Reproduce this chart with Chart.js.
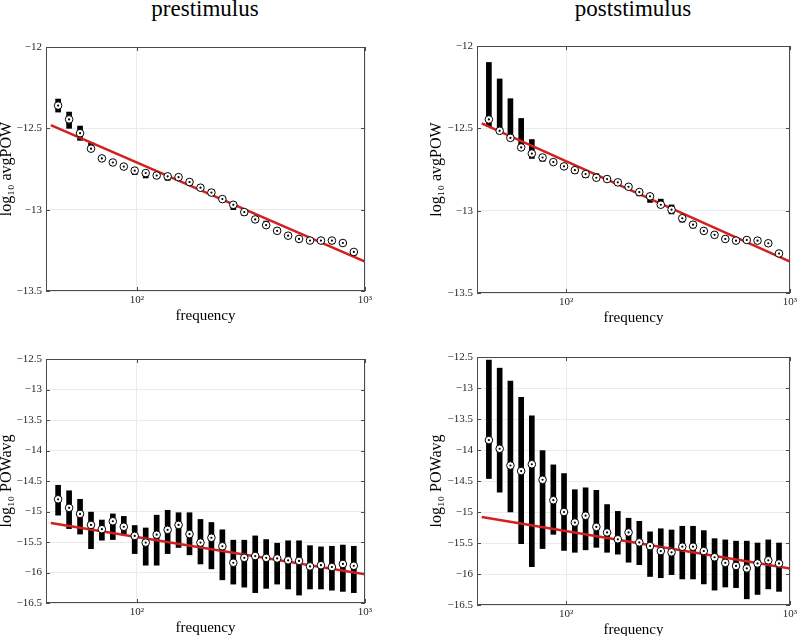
<!DOCTYPE html>
<html>
<head>
<meta charset="utf-8">
<script src="https://cdn.jsdelivr.net/npm/chart.js@4.4.0/dist/chart.umd.min.js"></script>
<style>
  body { margin: 0; background: #fff; }
  #page { position: relative; width: 797px; height: 636px; overflow: hidden; }
  canvas { position: absolute; }
  .title {
    position: absolute; top: -3px; width: 300px; text-align: center;
    font-family: 'Liberation Serif', serif; font-size: 23px; line-height: 23px; color: #000;
  }
</style>
</head>
<body>
<div id="page">
  <div class="title" style="left:55px">prestimulus</div>
  <div class="title" style="left:483px">poststimulus</div>
  <canvas id="preAvg"></canvas>
  <canvas id="postAvg"></canvas>
  <canvas id="prePow"></canvas>
  <canvas id="postPow"></canvas>
</div>
<script>
// frequency bins (Hz), log spaced
const freqs = [45.2, 50.5, 56.4, 63.0, 70.3, 78.5, 87.7, 97.9, 109.4, 122.2,
  136.5, 152.4, 170.2, 190.1, 212.3, 237.1, 264.8, 295.8, 330.3, 368.9,
  412.1, 460.3, 514.0, 574.1, 641.2, 716.1, 799.8, 893.3];

// log10 avgPOW, prestimulus
const preAvgMean = [-12.36, -12.445, -12.53, -12.625, -12.685, -12.71, -12.735, -12.76, -12.775, -12.79,
  -12.795, -12.80, -12.83, -12.865, -12.895, -12.935, -12.97, -13.015, -13.06, -13.095,
  -13.13, -13.16, -13.18, -13.19, -13.19, -13.19, -13.205, -13.26];
const preAvgLo = [-12.40, -12.50, -12.574, -12.635, -12.70, -12.72, -12.745, -12.785, -12.805, -12.80,
  -12.82, -12.81, -12.84, -12.875, -12.91, -12.945, -13.0, -13.035, -13.07, -13.11,
  -13.14, -13.17, -13.19, -13.20, -13.20, -13.21, -13.215, -13.28];
const preAvgHi = [-12.32, -12.40, -12.486, -12.59, -12.675, -12.70, -12.725, -12.75, -12.765, -12.78,
  -12.785, -12.79, -12.82, -12.855, -12.877, -12.925, -12.96, -13.005, -13.05, -13.07,
  -13.12, -13.15, -13.17, -13.18, -13.18, -13.18, -13.195, -13.25];

// log10 avgPOW, poststimulus
const postAvgMean = [-12.446, -12.515, -12.558, -12.616, -12.653, -12.677, -12.705, -12.731, -12.754, -12.778,
  -12.80, -12.808, -12.828, -12.855, -12.887, -12.913, -12.964, -12.994, -13.046, -13.085,
  -13.123, -13.147, -13.172, -13.182, -13.178, -13.182, -13.198, -13.26];
const postAvgLo = [-12.49, -12.53, -12.575, -12.63, -12.683, -12.70, -12.715, -12.74, -12.775, -12.80,
  -12.81, -12.82, -12.845, -12.865, -12.91, -12.95, -12.975, -13.02, -13.07, -13.105,
  -13.14, -13.16, -13.18, -13.19, -13.19, -13.19, -13.21, -13.27];
const postAvgHi = [-12.10, -12.20, -12.32, -12.44, -12.568, -12.665, -12.695, -12.72, -12.745, -12.77,
  -12.775, -12.80, -12.81, -12.845, -12.875, -12.895, -12.93, -12.965, -13.035, -13.075,
  -13.11, -13.14, -13.16, -13.17, -13.17, -13.17, -13.19, -13.25];

// log10 POWavg, prestimulus
const prePowMean = [-14.80, -14.94, -15.04, -15.22, -15.29, -15.16, -15.25, -15.40, -15.51, -15.38,
  -15.30, -15.22, -15.37, -15.51, -15.43, -15.57, -15.84, -15.76, -15.73, -15.76,
  -15.77, -15.80, -15.81, -15.90, -15.88, -15.91, -15.86, -15.89];
const prePowLo = [-15.06, -15.28, -15.37, -15.61, -15.47, -15.46, -15.37, -15.69, -15.88, -15.88,
  -15.69, -15.59, -15.71, -15.86, -15.94, -16.12, -16.19, -16.24, -16.33, -16.26,
  -16.19, -16.27, -16.37, -16.27, -16.27, -16.29, -16.31, -16.33];
const prePowHi = [-14.57, -14.66, -14.80, -15.01, -15.14, -15.04, -15.08, -15.23, -15.27, -15.06,
  -14.98, -15.02, -15.02, -15.13, -15.18, -15.30, -15.47, -15.47, -15.40, -15.46,
  -15.52, -15.48, -15.48, -15.56, -15.58, -15.57, -15.55, -15.57];

// log10 POWavg, poststimulus
const postPowMean = [-13.84, -13.98, -14.25, -14.34, -14.23, -14.48, -14.81, -15.00, -15.17, -15.06,
  -15.24, -15.33, -15.44, -15.33, -15.49, -15.55, -15.63, -15.65, -15.56, -15.56,
  -15.63, -15.73, -15.82, -15.87, -15.91, -15.83, -15.78, -15.83];
const postPowLo = [-14.46, -14.68, -15.00, -15.51, -15.88, -15.59, -15.36, -15.62, -15.65, -15.61,
  -15.57, -15.65, -15.68, -15.81, -15.85, -16.04, -16.06, -16.01, -16.08, -16.08,
  -16.16, -16.26, -16.21, -16.22, -16.40, -16.33, -16.24, -16.28];
const postPowHi = [-12.55, -12.68, -12.89, -13.15, -13.45, -14.01, -14.24, -14.38, -14.64, -14.61,
  -14.65, -14.88, -14.99, -15.10, -15.15, -15.32, -15.27, -15.29, -15.23, -15.23,
  -15.30, -15.43, -15.45, -15.47, -15.47, -15.50, -15.45, -15.50];

// power-law fit lines (end points)
const fitX = [42, 1000];
const preAvgFit = [-12.48, -13.32];
const postAvgFit = [-12.47, -13.31];
const prePowFit = [-15.19, -16.03];
const postPowFit = [-15.08, -15.91];

// tick labels
const xTickVals = [100, 1000];
const xTickLabels = ['10²', '10³'];
const avgTicks = [-13.5, -13, -12.5, -12];
const powTicks = [-16.5, -16, -15.5, -15, -14.5, -14, -13.5, -13, -12.5];

const serif = "'Liberation Serif', 'DejaVu Serif', serif";

// frame box with inward ticks, MATLAB style
const framePlugin = {
  id: 'frame',
  afterDraw(chart) {
    const { ctx, chartArea: a, scales } = chart;
    ctx.save();
    ctx.strokeStyle = '#4a4a4a';
    ctx.lineWidth = 1;
    ctx.beginPath();
    scales.y.ticks.forEach(t => {
      const py = Math.round(scales.y.getPixelForValue(t.value)) + 0.5;
      ctx.moveTo(a.left, py); ctx.lineTo(a.left + 4, py);
      ctx.moveTo(a.right, py); ctx.lineTo(a.right - 4, py);
    });
    scales.x.ticks.forEach(t => {
      const px = Math.round(scales.x.getPixelForValue(t.value)) + 0.5;
      ctx.moveTo(px, a.bottom); ctx.lineTo(px, a.bottom - 4);
      ctx.moveTo(px, a.top); ctx.lineTo(px, a.top + 4);
    });
    ctx.stroke();
    ctx.strokeRect(Math.round(a.left) + 0.5, Math.round(a.top) + 0.5,
      Math.round(a.right - a.left) - 1, Math.round(a.bottom - a.top) - 1);
    ctx.restore();
  }
};

const fmt = v => String(v).replace('-', '\u2212');

function makePanel(id, colX, area, yTicks, yLabel, mean, lo, hi, fit) {
  const [l, t, r, b] = area;
  const canvas = document.getElementById(id);
  const padTop = 17, xH = 39, padRight = 12;
  canvas.width = r - colX + padRight;
  canvas.height = b - t + padTop + xH + 1;
  canvas.style.left = colX + 'px';
  canvas.style.top = (t - padTop) + 'px';
  const yW = l - colX;
  const pts = freqs.map((f, i) => ({ x: f, y: mean[i] }));

  return new Chart(canvas, {
    type: 'scatter',
    data: {
      datasets: [
        {
          type: 'bar',
          data: freqs.map((f, i) => ({ x: f, y: [lo[i], hi[i]] })),
          backgroundColor: '#000',
          barThickness: 5,
          grouped: false,
          order: 3
        },
        {
          type: 'line',
          data: fitX.map((f, i) => ({ x: f, y: fit[i] })),
          borderColor: '#d41f1f',
          borderWidth: 2.5,
          pointRadius: 0,
          order: 2
        },
        {
          type: 'scatter',
          data: pts,
          pointRadius: 3.8,
          pointBackgroundColor: '#fff',
          pointBorderColor: '#000',
          pointBorderWidth: 1,
          order: 1
        },
        {
          type: 'scatter',
          data: pts,
          pointRadius: 1.1,
          pointBackgroundColor: '#000',
          pointBorderWidth: 0,
          order: 0
        }
      ]
    },
    options: {
      responsive: false,
      animation: false,
      devicePixelRatio: 1,
      layout: { padding: { top: padTop, right: padRight, left: 0, bottom: 1 } },
      plugins: { legend: { display: false }, tooltip: { enabled: false } },
      scales: {
        x: {
          type: 'logarithmic',
          min: 40,
          max: 1000,
          offset: false,
          afterBuildTicks: s => { s.ticks = xTickVals.map(v => ({ value: v })); },
          afterFit: s => { s.height = xH; },
          ticks: {
            callback: v => xTickLabels[xTickVals.indexOf(v)] || '',
            font: { family: serif, size: 11 },
            color: '#262626',
            padding: 3,
            maxRotation: 0,
            autoSkip: false
          },
          grid: { color: '#ebebeb', drawTicks: false, offset: false },
          border: { display: false },
          title: {
            display: true,
            text: 'frequency',
            font: { family: serif, size: 15 },
            color: '#000',
            padding: { top: 0, bottom: 5 }
          }
        },
        y: {
          type: 'linear',
          min: yTicks[0],
          max: yTicks[yTicks.length - 1],
          beginAtZero: false,
          afterBuildTicks: s => { s.ticks = yTicks.map(v => ({ value: v })); },
          afterFit: s => { s.width = yW; },
          ticks: {
            callback: v => fmt(v),
            font: { family: serif, size: 11 },
            color: '#262626',
            padding: 4
          },
          grid: { color: '#ebebeb', drawTicks: false },
          border: { display: false },
          title: {
            display: true,
            text: yLabel,
            font: { family: serif, size: 16, lineHeight: 0.9 },
            color: '#000',
            padding: { top: 0, bottom: 0 }
          }
        }
      }
    },
    plugins: [framePlugin]
  });
}

makePanel('preAvg', 0, [46, 47, 365, 291], avgTicks, 'log₁₀ avgPOW', preAvgMean, preAvgLo, preAvgHi, preAvgFit);
makePanel('postAvg', 430, [477, 46, 790, 293], avgTicks, 'log₁₀ avgPOW', postAvgMean, postAvgLo, postAvgHi, postAvgFit);
makePanel('prePow', 0, [46, 359, 365, 603], powTicks, 'log₁₀ POWavg', prePowMean, prePowLo, prePowHi, prePowFit);
makePanel('postPow', 430, [477, 357, 790, 605], powTicks, 'log₁₀ POWavg', postPowMean, postPowLo, postPowHi, postPowFit);
</script>
</body>
</html>
